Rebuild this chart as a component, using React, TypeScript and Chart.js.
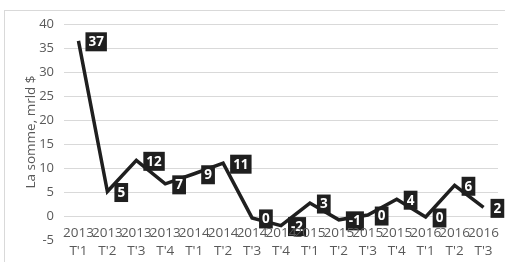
import React, { useEffect, useRef } from 'react';
import { Chart, registerables } from 'chart.js';

Chart.register(...registerables);

const years = ['2013', '2013', '2013', '2013', '2014', '2014', '2014', '2014', '2015', '2015', '2015', '2015', '2016', '2016', '2016'];
const quarters = ["T'1", "T'2", "T'3", "T'4", "T'1", "T'2", "T'3", "T'4", "T'1", "T'2", "T'3", "T'4", "T'1", "T'2", "T'3"];
const values = [36.5, 5.1, 11.6, 6.7, 8.8, 11.0, -0.4, -2.0, 2.7, -0.8, 0.2, 3.5, -0.2, 6.4, 1.8];
const yMin = -5;
const yMax = 40;
const yStep = 5;
const yTitle = 'La somme, mrld $';

const FONT = "'Open Sans', sans-serif";

export default function App() {
  const ref = useRef<HTMLCanvasElement>(null);

  useEffect(() => {
    if (!ref.current) return;

    const frame = {
      id: 'frame',
      beforeDraw(chart: any) {
        const { ctx } = chart;
        ctx.save();
        ctx.fillStyle = '#ffffff';
        ctx.fillRect(0, 0, chart.width, chart.height);
        ctx.strokeStyle = '#d9d9d9';
        ctx.lineWidth = 1;
        ctx.strokeRect(4.5, 10.5, 700, 400);
        ctx.restore();
      },
    };

    const catLabels = {
      id: 'catLabels',
      afterDraw(chart: any) {
        const { ctx } = chart;
        const xs = chart.scales.x;
        const ys = chart.scales.y;
        const y0 = ys.getPixelForValue(0);
        ctx.save();
        ctx.font = `13.5px ${FONT}`;
        ctx.fillStyle = '#595959';
        ctx.textAlign = 'center';
        ctx.textBaseline = 'middle';
        years.forEach((yr, i) => {
          const x = xs.getPixelForValue(i);
          ctx.fillText(yr, x, y0 + 17);
          ctx.fillText(quarters[i], x, y0 + 35);
        });
        ctx.restore();
      },
    };

    const dataLabels = {
      id: 'dataLabels',
      afterDatasetsDraw(chart: any) {
        const { ctx } = chart;
        const meta = chart.getDatasetMeta(0);
        ctx.save();
        ctx.font = `bold 13.5px ${FONT}`;
        ctx.textBaseline = 'middle';
        ctx.textAlign = 'center';
        meta.data.forEach((pt: any, i: number) => {
          const txt = String(Math.round(values[i]) || 0);
          const tw = ctx.measureText(txt).width;
          const w = tw + 6;
          const h = 19;
          const left = pt.x + 7;
          const top = pt.y - h / 2 + 1;
          ctx.fillStyle = '#1f1f1f';
          ctx.fillRect(left, top, w, h);
          ctx.fillStyle = '#ffffff';
          ctx.fillText(txt, left + w / 2, top + h / 2 + 0.5);
        });
        ctx.restore();
      },
    };

    const chart = new Chart(ref.current, {
      type: 'line',
      data: {
        labels: years.map((y, i) => `${y} ${quarters[i]}`),
        datasets: [
          {
            data: values,
            borderColor: '#1f1f1f',
            borderWidth: 3.5,
            pointRadius: 0,
            tension: 0,
            fill: false,
          },
        ],
      },
      options: {
        responsive: false,
        animation: false,
        layout: { padding: { top: 24, right: 7, bottom: 22, left: 0 } },
        plugins: {
          legend: { display: false },
          tooltip: { enabled: false },
        },
        scales: {
          x: {
            display: false,
            offset: true,
          },
          y: {
            min: yMin,
            max: yMax,
            afterFit: (s: any) => {
              s.width = 64;
            },
            ticks: {
              stepSize: yStep,
              padding: 10,
              color: '#595959',
              font: { family: FONT, size: 13 },
            },
            grid: {
              drawTicks: false,
              color: (c: any) => (c.tick && c.tick.value === yMin ? 'rgba(0,0,0,0)' : '#d9d9d9'),
              lineWidth: 1,
            },
            border: { display: false },
            title: {
              display: true,
              text: yTitle,
              color: '#595959',
              font: { family: FONT, size: 13.5 },
              padding: { top: 23, bottom: 0 },
            },
          },
        },
      },
      plugins: [frame, catLabels, dataLabels],
    } as any);

    return () => chart.destroy();
  }, []);

  return (
    <div style={{ position: 'fixed', left: 0, top: 0, width: 505, height: 262, background: '#fff' }}>
      <canvas ref={ref} width={505} height={262} style={{ display: 'block', width: 505, height: 262 }} />
    </div>
  );
}
